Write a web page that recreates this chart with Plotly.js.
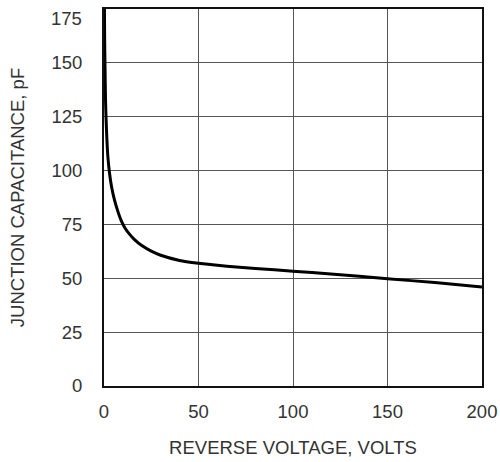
<!DOCTYPE html>
<html>
<head>
<meta charset="utf-8">
<script src="https://cdn.plot.ly/plotly-3.0.1.min.js"></script>
<style>html,body{margin:0;padding:0;background:#fff;}#chart{width:500px;height:462px;}</style>
</head>
<body>
<div id="chart"></div>
<script>
const reverseVoltage = [0.2, 0.35, 0.5, 0.8, 1.1, 1.5, 2.0, 2.9, 4.0, 5.5, 7, 9, 11, 13.5, 16, 20, 25, 30, 40, 50, 60, 70, 80, 100, 120, 150, 175, 200];
const capacitance =   [180, 160, 150, 133, 124, 115, 107, 99, 92.5, 86.5, 82, 77, 73.5, 70.5, 68.1, 65.2, 62.6, 60.7, 58.3, 57.0, 56.0, 55.2, 54.6, 53.3, 52, 49.8, 48, 45.9];
const xTicks = [0, 50, 100, 150, 200];
const yTicks = [0, 25, 50, 75, 100, 125, 150, 175];
const xTitle = 'REVERSE VOLTAGE, VOLTS';
const yTitle = 'JUNCTION CAPACITANCE, pF';

const font = {family: 'Liberation Sans, Arial, sans-serif', size: 18.5, color: '#333'};
const topTick = yTicks[yTicks.length - 1];

Plotly.newPlot('chart', [{
  x: reverseVoltage,
  y: capacitance,
  mode: 'lines',
  line: {color: '#000', width: 3, shape: 'spline', smoothing: 0.5},
  hoverinfo: 'skip'
}], {
  width: 500, height: 462,
  margin: {l: 104, r: 18, t: 9, b: 76},
  paper_bgcolor: '#fff', plot_bgcolor: '#fff',
  showlegend: false,
  font: font,
  xaxis: {
    range: [0, 200], tickvals: xTicks, ticktext: xTicks.map(String),
    showgrid: true, gridcolor: '#555', gridwidth: 1,
    showline: true, linecolor: '#111', linewidth: 2, mirror: true,
    zeroline: false, ticks: '', ticklabelstandoff: 8, ticklabeloverflow: 'allow',
    tickfont: font,
    title: {text: xTitle, font: font, standoff: 20}
  },
  yaxis: {
    range: [0, 175], tickvals: yTicks,
    ticktext: yTicks.map(v => v === topTick ? ' ' : String(v)),
    showgrid: true, gridcolor: '#555', gridwidth: 1,
    showline: true, linecolor: '#111', linewidth: 2, mirror: true,
    zeroline: false, ticks: '', ticklabelstandoff: 16, ticklabeloverflow: 'allow',
    tickfont: font,
    title: {text: yTitle, font: font, standoff: 22}
  },
  annotations: [{
    xref: 'paper', yref: 'y', x: 0, y: topTick,
    text: String(topTick), showarrow: false,
    xanchor: 'right', yanchor: 'top', xshift: -20, yshift: 3,
    font: font
  }]
}, {staticPlot: true});
</script>
</body>
</html>
